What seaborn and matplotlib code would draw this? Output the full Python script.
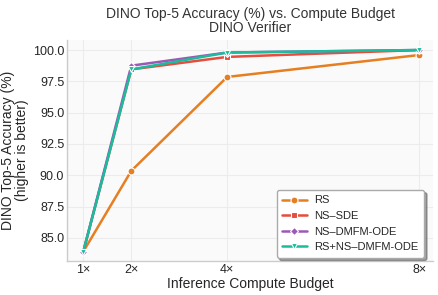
import matplotlib
matplotlib.use("Agg")
import matplotlib.pyplot as plt
import seaborn as sns
import pandas as pd

budgets = [1, 2, 4, 8]
budget_labels = ["1×", "2×", "4×", "8×"]
rs = [83.9, 90.35, 97.85, 99.6]
ns_sde = [83.9, 98.45, 99.45, 100.0]
ns_dmfm = [83.9, 98.75, 99.8, 100.0]
rs_ns_dmfm = [83.9, 98.45, 99.8, 100.0]
methods = ["RS", "NS–SDE", "NS–DMFM-ODE", "RS+NS–DMFM-ODE"]
colors = ["#e67e22", "#e74c3c", "#9b59b6", "#1abc9c"]
markers = ["o", "s", "D", "v"]

rows = []
for m, vals in zip(methods, [rs, ns_sde, ns_dmfm, rs_ns_dmfm]):
    for b, v in zip(budgets, vals):
        rows.append({"budget": b, "acc": v, "method": m})
df = pd.DataFrame(rows)

sns.set_theme(style="whitegrid")
plt.rcParams['font.family'] = ['Liberation Sans', 'DejaVu Sans']

fig = plt.figure(figsize=(4.38, 2.95), dpi=100)
ax = fig.add_axes([67/438, 1-261/295, (433-67)/438, (261-40)/295])
ax.set_facecolor("#fafafa")

for m, c, mk in zip(methods, colors, markers):
    sub = df[df.method == m]
    sns.lineplot(data=sub, x="budget", y="acc", ax=ax, color=c, marker=mk,
                 markersize=5 if mk != "D" else 4.5, markeredgecolor="white",
                 markeredgewidth=0.8, linewidth=1.8, label=m)

ax.set_xlim(0.66, 8.29)
ax.set_ylim(83.15, 100.8)
ax.set_xticks(budgets)
ax.set_xticklabels(budget_labels)
ax.set_yticks([85, 87.5, 90, 92.5, 95, 97.5, 100])
ax.set_yticklabels(["85.0", "87.5", "90.0", "92.5", "95.0", "97.5", "100.0"])
ax.tick_params(labelsize=9, pad=2, length=0)
ax.grid(True, color="#ececec", linewidth=0.8)
for s in ["top", "right"]:
    ax.spines[s].set_visible(False)
for s in ["left", "bottom"]:
    ax.spines[s].set_color("#cccccc")
    ax.spines[s].set_linewidth(1)

ax.set_xlabel("Inference Compute Budget", fontsize=10, labelpad=1)
ax.set_ylabel("DINO Top-5 Accuracy (%)\n(higher is better)", fontsize=10, labelpad=3, linespacing=0.95)
ax.set_title("DINO Top-5 Accuracy (%) vs. Compute Budget\nDINO Verifier", fontsize=10, pad=6, linespacing=0.95, color="#333333")

leg = ax.legend(loc="lower right", fontsize=8, frameon=True, fancybox=True, shadow=True,
                framealpha=1, borderpad=0.5, handlelength=2.2, labelspacing=0.5,
                borderaxespad=0.3, handletextpad=0.7, bbox_to_anchor=(0.985, 0.0))
leg.get_frame().set_edgecolor("#aaaaaa")

fig.savefig("out.png", dpi=100)
